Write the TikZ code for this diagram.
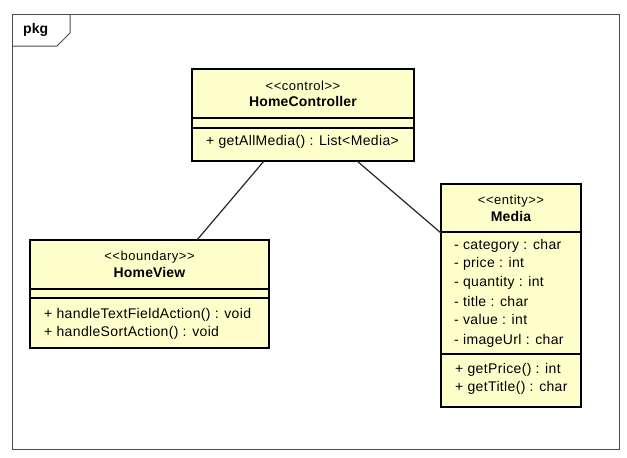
\documentclass[tikz,border=0pt]{standalone}
\usepackage{fontspec}
\setmainfont{Liberation Sans}
\usetikzlibrary{calc}
\definecolor{clsfill}{RGB}{255,255,204}
\begin{document}
\begin{tikzpicture}[x=1pt,y=-1pt,
  frm/.style={draw=black!70, line width=1pt, rectangle, inner sep=0pt, outer sep=0pt, anchor=north west},
  cls/.style={draw=black, line width=2pt, fill=clsfill, rectangle, inner sep=0pt, outer sep=0pt, anchor=north west},
  sep/.style={draw=black, line width=1.1pt},
  conn/.style={draw=black!85, line width=1.2pt},
  stereo/.style={font=\fontsize{13}{15}\selectfont\addfontfeatures{LetterSpace=4}, inner sep=0pt, anchor=mid},
  cname/.style={font=\fontsize{14}{16}\selectfont\bfseries\addfontfeatures{LetterSpace=1}, inner sep=0pt, anchor=mid},
  mem/.style={font=\fontsize{14}{16}\selectfont\addfontfeatures{LetterSpace=2.5}, inner sep=0pt, anchor=mid west},
  ]
\useasboundingbox (0,0) rectangle (627,458);
% frame
\node[frm, minimum width=607pt, minimum height=435pt] (frame) at (12,14) {};
\draw[draw=black!70, line width=1pt] (12,46) -- (57,46) -- (70,33) -- (70,14);
\node[font=\fontsize{14}{16}\selectfont\bfseries, inner sep=0pt, anchor=mid west] (pkg) at (23,31) {pkg};

% HomeController
\node[cls, minimum width=222pt, minimum height=92pt] (hc) at (192,69) {};
\draw[sep] (192,118) -- (414,118);
\draw[sep] (192,128) -- (414,128);
\node[stereo] (hcs) at (303,88) {<{}<control>{}>};
\node[cname] (hcn) at (303,104) {HomeController};
\node[mem] (hcm1) at (206,143) {+ getAllMedia() : List<Media>};

% HomeView
\node[cls, minimum width=239pt, minimum height=108pt] (hv) at (30,240) {};
\draw[sep] (30,289) -- (269,289);
\draw[sep] (30,298) -- (269,298);
\node[stereo] (hvs) at (149.5,258) {<{}<boundary>{}>};
\node[cname] (hvn) at (149.5,275) {HomeView};
\node[mem] (hvm1) at (44,316) {+ handleTextFieldAction() : void};
\node[mem] (hvm2) at (44,334) {+ handleSortAction() : void};

% Media
\node[cls, minimum width=140pt, minimum height=223pt] (md) at (441,184) {};
\draw[sep] (441,232) -- (581,232);
\draw[sep] (441,354) -- (581,354);
\node[stereo] (mds) at (511,202) {<{}<entity>{}>};
\node[cname] (mdn) at (511,219) {Media};
\node[mem] (ma1) at (454,247) {- category : char};
\node[mem] (ma2) at (454,265) {- price : int};
\node[mem] (ma3) at (454,284) {- quantity : int};
\node[mem] (ma4) at (454,304) {- title : char};
\node[mem] (ma5) at (454,322) {- value : int};
\node[mem] (ma6) at (454,342) {- imageUrl : char};
\node[mem] (mm1) at (455,371) {+ getPrice() : int};
\node[mem] (mm2) at (455,389) {+ getTitle() : char};

% connectors
\coordinate (c1a) at ($(hc.south west)+(72pt,0)$);
\coordinate (c1b) at ($(hv.north west)+(167pt,0)$);
\coordinate (c2a) at ($(hc.south west)+(165pt,0)$);
\coordinate (c2b) at ($(md.north west)+(0,-49pt)$);
\draw[conn] (c1a) -- (c1b);
\draw[conn] (c2a) -- (c2b);
\end{tikzpicture}
\end{document}
